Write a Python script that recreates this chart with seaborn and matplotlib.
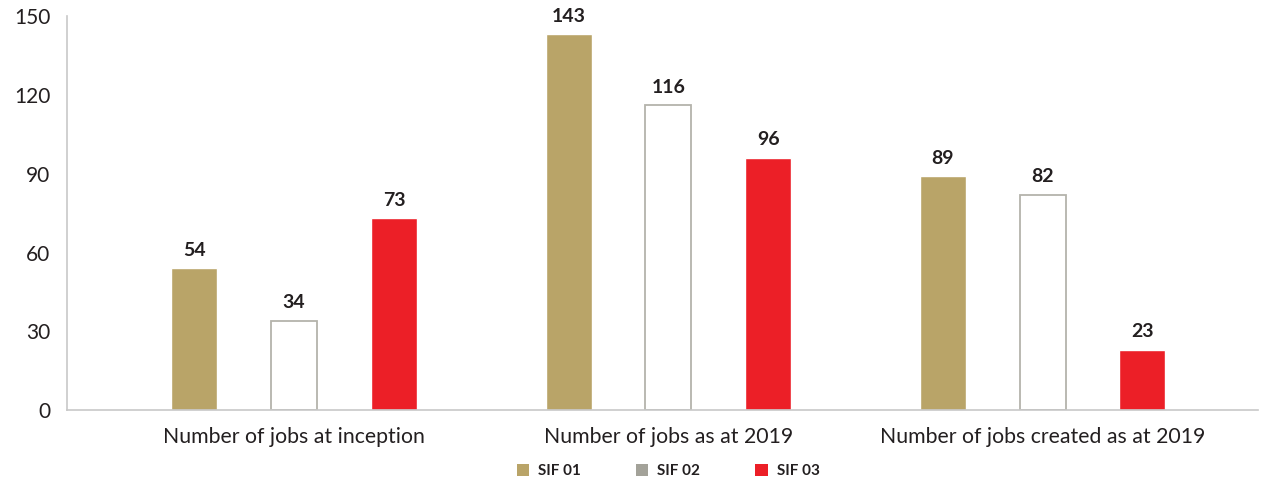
import matplotlib
matplotlib.use("Agg")
import matplotlib.pyplot as plt
from matplotlib.patches import Patch
import seaborn as sns
import pandas as pd

categories = ["Number of jobs at inception", "Number of jobs as at 2019", "Number of jobs created as at 2019"]
series = ["SIF 01", "SIF 02", "SIF 03"]
sif01 = [54, 143, 89]
sif02 = [34, 116, 82]
sif03 = [73, 96, 23]

colors = {"SIF 01": "#b9a468", "SIF 02": "#a3a299", "SIF 03": "#ec1f27"}
text_col = "#231f20"
axis_col = "#c8c8c8"

rows = []
for name, vals in zip(series, [sif01, sif02, sif03]):
    for cat, v in zip(categories, vals):
        rows.append({"category": cat, "fund": name, "jobs": v})
df = pd.DataFrame(rows)

sns.set_style("white")
plt.rcParams["font.family"] = ["Lato", "DejaVu Sans"]

fig = plt.figure(figsize=(12.75, 4.86), dpi=100)
ax = fig.add_axes([0.0525, 0.156, 0.934, 0.811])

sns.barplot(data=df, x="category", y="jobs", hue="fund", order=categories,
            hue_order=series, palette=colors, width=0.8, gap=0.54,
            saturation=1, ax=ax, legend=False)

# SIF 02 drawn as outlined bars
for bar in ax.containers[1]:
    bar.set_facecolor("white")
    bar.set_edgecolor("#b4b3ab")
    bar.set_linewidth(1.3)

for cont in ax.containers:
    ax.bar_label(cont, padding=7, fontsize=14, fontweight="bold", color=text_col)

ax.set_ylim(0, 150)
ax.set_yticks([0, 30, 60, 90, 120, 150])
ax.set_xlim(-0.607, 2.575)
ax.set_xlabel("")
ax.set_ylabel("")

for s in ["top", "right"]:
    ax.spines[s].set_visible(False)
for s in ["left", "bottom"]:
    ax.spines[s].set_color(axis_col)
    ax.spines[s].set_linewidth(1.2)

ax.tick_params(axis="y", direction="in", length=28, width=1.2, color=axis_col,
               labelsize=15, labelcolor=text_col, pad=12)
ax.tick_params(axis="x", which="major", length=0, labelsize=15.3,
               labelcolor=text_col, pad=12)
ax.set_xticks([0.5, 1.5], minor=True)
ax.tick_params(axis="x", which="minor", direction="in", length=10, width=1.2, color=axis_col)

handles = [Patch(facecolor=colors[s], edgecolor="none", label=s) for s in series]
leg = fig.legend(handles=handles, loc="center", bbox_to_anchor=(0.524, 0.03), ncol=3,
                 frameon=False, handlelength=0.8, handleheight=0.8, columnspacing=3.6,
                 handletextpad=0.6, prop={"size": 11, "weight": "bold"})
for t in leg.get_texts():
    t.set_color(text_col)

fig.savefig("out.png", dpi=100)
